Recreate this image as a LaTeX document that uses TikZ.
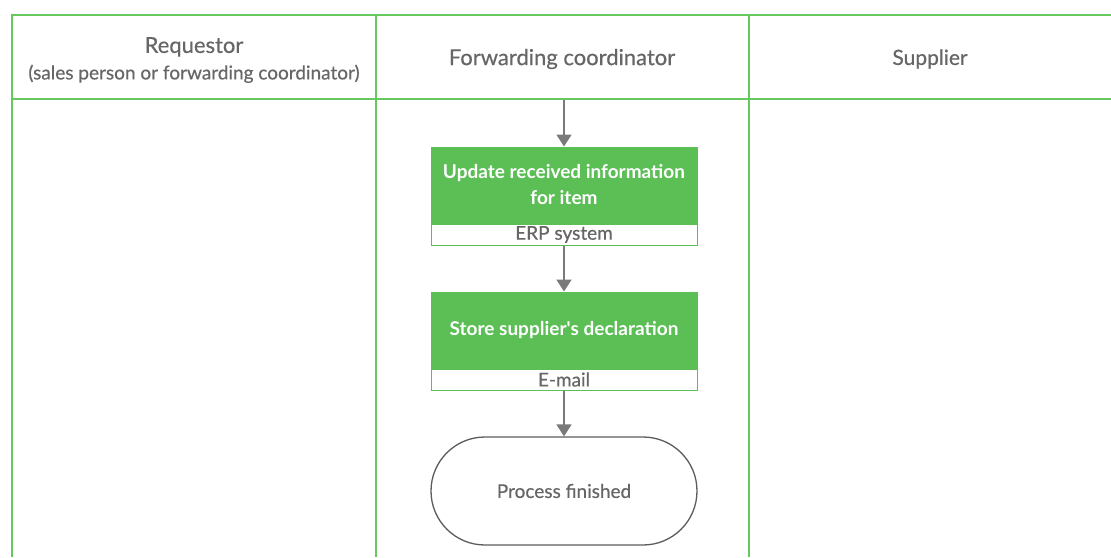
\documentclass[tikz,border=0pt]{standalone}
\usepackage{fontspec}
\setmainfont{Lato}
\newfontfamily\heavier{Lato}[FakeBold=0.5]
\usetikzlibrary{arrows.meta,shapes.misc}
\definecolor{lane}{HTML}{66C95E}
\definecolor{task}{HTML}{5BBF55}
\definecolor{ink}{HTML}{666666}
\definecolor{flow}{HTML}{7A7A7A}
\tikzset{
  laneline/.style={draw=lane, line width=1.8pt},
  head/.style={text=ink, align=center},
  taskbox/.style={fill=task, draw=task, line width=1pt, minimum width=266pt, minimum height=76pt, text=white, align=center, font=\fontsize{19}{26}\selectfont\bfseries, inner sep=0pt},
  toolbox/.style={fill=white, draw=task, line width=1pt, minimum width=266pt, minimum height=21pt, text=ink, font=\heavier\fontsize{19}{20}\selectfont, inner sep=0pt},
  endbox/.style={draw=ink!90!black, line width=1.3pt, rounded rectangle, minimum width=266pt, minimum height=108pt, text=ink, font=\heavier\fontsize{19}{22}\selectfont, inner sep=0pt},
  flowarrow/.style={draw=flow, line width=1.8pt, -{Triangle[length=12pt,width=15pt]}}
}
\begin{document}
\begin{tikzpicture}[x=1pt,y=-1pt]
\useasboundingbox (0,0) rectangle (1111,557);
% swimlane frame
\draw[laneline] (12,557) -- (12,15) -- (1111,15);
\draw[laneline] (12,99) -- (1111,99);
\draw[laneline] (376,15) -- (376,557);
\draw[laneline] (749,15) -- (749,557);
% lane headers
\node[head, font=\heavier] (h1) at (194,60) {{\fontsize{22}{26}\selectfont Requestor}\\[7pt]{\fontsize{19}{22}\selectfont (sales person or forwarding coordinator)}};
\node[head, font=\heavier\fontsize{22}{26}\selectfont] (h2) at (562,59) {Forwarding coordinator};
\node[head, font=\heavier\fontsize{21}{26}\selectfont] (h3) at (930,59) {Supplier};
\coordinate (start) at (564,100);
% tasks
\node[taskbox] (t1) at (564,185) {Update received information\\for item};
\node[toolbox, anchor=north] (t1tool) at (t1.south) {ERP system};
\node[taskbox] (t2) at (564,330) {Store supplier\textquotesingle s declaration};
\node[toolbox, anchor=north] (t2tool) at (t2.south) {E-mail};
\node[endbox] (end) at (564,491) {Process finished};
% flow
\draw[flowarrow] (start) -- (t1.north);
\draw[flowarrow] (t1tool.south) -- (t2.north);
\draw[flowarrow] (t2tool.south) -- (end.north);
\end{tikzpicture}
\end{document}
